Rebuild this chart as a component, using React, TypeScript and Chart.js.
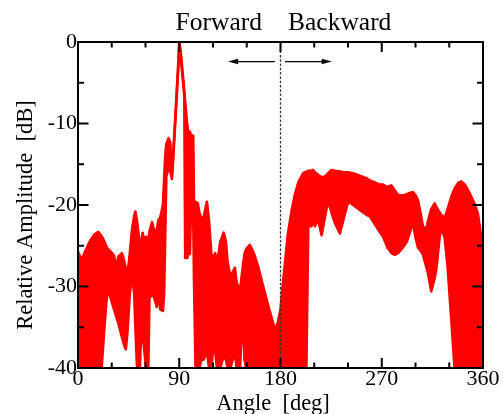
import React, { useEffect, useRef } from 'react';
import { Chart, registerables } from 'chart.js';

Chart.register(...registerables);

// ---- data ----
const ANGLES = [
  0, 1.5, 3.5, 6, 10, 14, 18, 21, 23.5, 26, 29, 32, 34, 36, 39, 41, 42.5, 44, 46, 48,
  50, 51, 52.5, 55, 56.5, 57.5, 59, 60.5, 62.5, 63.5, 65.8, 68, 70, 71.5, 73, 75.5, 76.5, 77.5, 78.5, 80.5,
  82, 83.5, 84.5, 86, 88, 89.3, 90, 91, 92.5, 94.5, 95.3, 97, 98.2, 99.5, 100.3, 102.4, 103.2, 104.5, 106.5, 108,
  109.5, 111.5, 114.6, 116.5, 118.5, 120.5, 122, 123.5, 126.5, 129.5, 131.5, 133, 135.5, 139.4, 141, 144, 146.5, 148, 149.5, 152.7,
  156, 160, 165, 170, 175, 177.5, 180, 182, 184, 186.5, 190, 193, 196, 200.2, 203, 204.7, 207.6, 209, 210.6, 213.5,
  216.5, 219.5, 222.4, 225.4, 228.3, 232.8, 236.5, 240.1, 244.6, 250.5, 256.4, 259.4, 265, 268.2, 271.2, 275, 278.6, 281.5, 284.5, 288.9,
  291.9, 293.3, 297.8, 300, 302.2, 304.5, 306.6, 309.6, 311, 314, 317, 318.5, 321.4, 322.9, 325.9, 328.5, 331.8, 334.7, 338, 340.7,
  344, 348, 352, 355.4, 358.4, 360,
];

const UPPER_DB = [
  -25.7, -26.2, -26.7, -25.8, -24.6, -23.7, -23.3, -23.8, -24.5, -25.3, -25.7, -26.2, -27.5, -26.3, -25.9, -26.8, -27.8, -28.5, -26, -23,
  -21.3, -20.8, -22, -25, -24.2, -23.4, -24.5, -23.9, -24.2, -23.3, -22.1, -23.3, -23, -21.8, -21.6, -20, -17, -14, -12.5, -11.8,
  -12.3, -16.3, -14, -10.4, -5.5, -2.2, 0, -0.8, -3, -6, -7.4, -10, -11.3, -11, -11.4, -11.5, -20.5, -19.6, -19.8, -21,
  -21.6, -21.6, -19.6, -22, -26, -26.4, -25.9, -27.3, -24.5, -23.4, -24.5, -27, -28.8, -27.7, -29.5, -30.5, -27.5, -26, -25.4, -24.9,
  -25.8, -27.5, -30.2, -32.8, -35.3, -34.5, -32.8, -29.8, -27.1, -23.6, -20.6, -18.6, -17.2, -16.1, -15.9, -15.8, -15.8, -15.7, -16, -16.3,
  -16.6, -16.5, -16.1, -15.7, -15.8, -15.9, -16, -16, -16.1, -16.4, -16.7, -17, -17.3, -17.5, -17.5, -17.8, -17.6, -18.2, -18.8, -18.8,
  -18.7, -18.6, -18.4, -18.8, -19.4, -21, -22.6, -23, -22, -20.5, -19.8, -20.2, -20.9, -21.2, -21.6, -20.5, -19, -18, -17.3, -17.1,
  -17.5, -18.5, -19.7, -21, -23.9, -24.3,
];

const LOWER_DB = [
  -40, -40, -40, -40, -40, -40, -40, -40, -35, -30.5, -31.4, -32.8, -33.7, -34.6, -36.2, -37.2, -37.7, -35.5, -31, -28.5,
  -31, -35, -40, -40, -34, -36, -38, -40, -40, -31.5, -30.8, -31.5, -32.5, -30.5, -32.8, -33, -31, -24, -16.5, -15.5,
  -15.8, -16.8, -14.6, -11, -6, -2.7, -0.6, -1.4, -3.6, -6.6, -26.5, -26.5, -26, -26, -21.2, -21.2, -30, -40, -40, -40,
  -39, -39, -38, -40, -40, -37, -38, -40, -40, -38.5, -39, -40, -40, -38, -40, -40, -33, -39, -40, -40,
  -40, -40, -40, -40, -40, -40, -40, -40, -40, -40, -40, -40, -40, -40, -40, -22.6, -22.6, -21.5, -22.6, -21.8,
  -23.7, -21.5, -19.4, -21, -22.2, -23.5, -21.5, -19.6, -20, -20.6, -21.2, -21.4, -22.6, -23.3, -23.9, -25.2, -25.9, -26.1, -25.9, -25.2,
  -24.6, -24.1, -22.2, -24, -25.2, -25.6, -26.1, -27.6, -28.3, -30.6, -29, -27.9, -24, -22.8, -24, -27.5, -34, -40, -40, -40,
  -40, -40, -40, -40, -40, -40,
];

const X_MIN = 0;
const X_MAX = 360;
const X_LABEL_STEP = 90;
const X_MINOR_STEP = 30;
const Y_MIN = -40;
const Y_MAX = 0;
const Y_LABEL_STEP = 10;
const Y_MINOR_STEP = 5;
const DIVIDER_DEG = 180;
const ARROW_Y_DB = -2.4;
const ARROW_LEFT_DEG = [175, 133.5];
const ARROW_RIGHT_DEG = [184, 225.5];
const HEADER_TEXTS = ['Forward', 'Backward'];
const X_TITLE = 'Angle  [deg]';
const Y_TITLE = 'Relative Amplitude  [dB]';

const SERIF = '"Liberation Serif", "Times New Roman", serif';
const RED = '#ff0000';

const decorations = {
  id: 'decorations',
  afterDraw(chart: any) {
    const { ctx, chartArea: a, scales } = chart;
    const x = scales.x;
    const y = scales.y;
    ctx.save();

    // dashed divider
    const xd = x.getPixelForValue(DIVIDER_DEG);
    ctx.strokeStyle = '#333';
    ctx.lineWidth = 1.3;
    ctx.setLineDash([2.5, 1.8]);
    ctx.beginPath();
    ctx.moveTo(xd, a.top);
    ctx.lineTo(xd, a.bottom);
    ctx.stroke();
    ctx.setLineDash([]);

    // inward ticks on all four sides
    ctx.strokeStyle = '#000';
    ctx.lineWidth = 2;
    ctx.beginPath();
    for (let v = X_MIN; v <= X_MAX; v += X_MINOR_STEP) {
      const px = x.getPixelForValue(v);
      const len = v % X_LABEL_STEP === 0 ? 10 : 5.5;
      ctx.moveTo(px, a.bottom);
      ctx.lineTo(px, a.bottom - len);
      ctx.moveTo(px, a.top);
      ctx.lineTo(px, a.top + len);
    }
    for (let v = Y_MIN; v <= Y_MAX; v += Y_MINOR_STEP) {
      const py = y.getPixelForValue(v);
      const len = v % Y_LABEL_STEP === 0 ? 10.5 : 6;
      ctx.moveTo(a.left, py);
      ctx.lineTo(a.left + len, py);
      ctx.moveTo(a.right, py);
      ctx.lineTo(a.right - len, py);
    }
    ctx.stroke();
    ctx.strokeRect(a.left, a.top, a.right - a.left, a.bottom - a.top);

    // arrows
    const ay = y.getPixelForValue(ARROW_Y_DB);
    const drawArrow = (fromDeg: number, toDeg: number) => {
      const x0 = x.getPixelForValue(fromDeg);
      const x1 = x.getPixelForValue(toDeg);
      const dir = Math.sign(x1 - x0);
      ctx.lineWidth = 1.3;
      ctx.beginPath();
      ctx.moveTo(x0, ay);
      ctx.lineTo(x1 - dir * 8, ay);
      ctx.stroke();
      ctx.fillStyle = '#000';
      ctx.beginPath();
      ctx.moveTo(x1, ay);
      ctx.lineTo(x1 - dir * 10, ay - 2.8);
      ctx.lineTo(x1 - dir * 10, ay + 2.8);
      ctx.closePath();
      ctx.fill();
    };
    drawArrow(ARROW_LEFT_DEG[0], ARROW_LEFT_DEG[1]);
    drawArrow(ARROW_RIGHT_DEG[0], ARROW_RIGHT_DEG[1]);

    // header texts
    ctx.fillStyle = '#000';
    ctx.font = `25.5px ${SERIF}`;
    ctx.textBaseline = 'alphabetic';
    ctx.textAlign = 'right';
    ctx.fillText(HEADER_TEXTS[0], xd - 18.5, a.top - 12);
    ctx.textAlign = 'left';
    ctx.fillText(HEADER_TEXTS[1], xd + 7.5, a.top - 12);

    // axis titles
    ctx.font = `22.5px ${SERIF}`;
    ctx.textAlign = 'center';
    ctx.fillText(X_TITLE, (a.left + a.right) / 2 - 7.5, a.bottom + 41.7);
    ctx.save();
    ctx.translate(32, (a.top + a.bottom) / 2 + 10);
    ctx.rotate(-Math.PI / 2);
    ctx.fillText(Y_TITLE, 0, 0);
    ctx.restore();

    ctx.restore();
  },
};

export default function App() {
  const canvasRef = useRef<HTMLCanvasElement | null>(null);

  useEffect(() => {
    document.body.style.margin = '0';
    const canvas = canvasRef.current;
    if (!canvas) return;
    const upper = ANGLES.map((a, i) => ({ x: a, y: UPPER_DB[i] }));
    const lower = ANGLES.map((a, i) => ({ x: a, y: LOWER_DB[i] }));
    const lineStyle = {
      borderColor: RED,
      backgroundColor: RED,
      borderWidth: 2.6,
      pointRadius: 0,
      tension: 0,
      clip: 0,
      borderJoinStyle: 'round' as const,
    };
    const chart = new Chart(canvas, {
      type: 'line',
      data: {
        datasets: [
          { ...lineStyle, data: upper, fill: false },
          { ...lineStyle, data: lower, fill: '-1' },
        ],
      },
      options: {
        responsive: false,
        animation: false,
        events: [],
        devicePixelRatio: 1,
        layout: { padding: { left: 0, right: 20, top: 42, bottom: 0 } },
        plugins: { legend: { display: false }, tooltip: { enabled: false } },
        scales: {
          x: {
            type: 'linear',
            min: X_MIN,
            max: X_MAX,
            grid: { display: false, drawTicks: false },
            border: { display: false },
            ticks: {
              stepSize: X_LABEL_STEP,
              color: '#000',
              padding: 0,
              maxRotation: 0,
              autoSkip: false,
              font: { family: SERIF, size: 22, lineHeight: 1 },
            },
            afterFit: (s: any) => {
              s.height = 46;
            },
          },
          y: {
            type: 'linear',
            min: Y_MIN,
            max: Y_MAX,
            grid: { display: false, drawTicks: false },
            border: { display: false },
            ticks: {
              stepSize: Y_LABEL_STEP,
              color: '#000',
              padding: 1,
              autoSkip: false,
              font: { family: SERIF, size: 22, lineHeight: 1 },
            },
            afterFit: (s: any) => {
              s.width = 78;
            },
          },
        },
      },
      plugins: [decorations],
    });
    return () => chart.destroy();
  }, []);

  return (
    <div style={{ width: 503, height: 414 }}>
      <canvas ref={canvasRef} width={503} height={414} style={{ display: 'block' }} />
    </div>
  );
}
